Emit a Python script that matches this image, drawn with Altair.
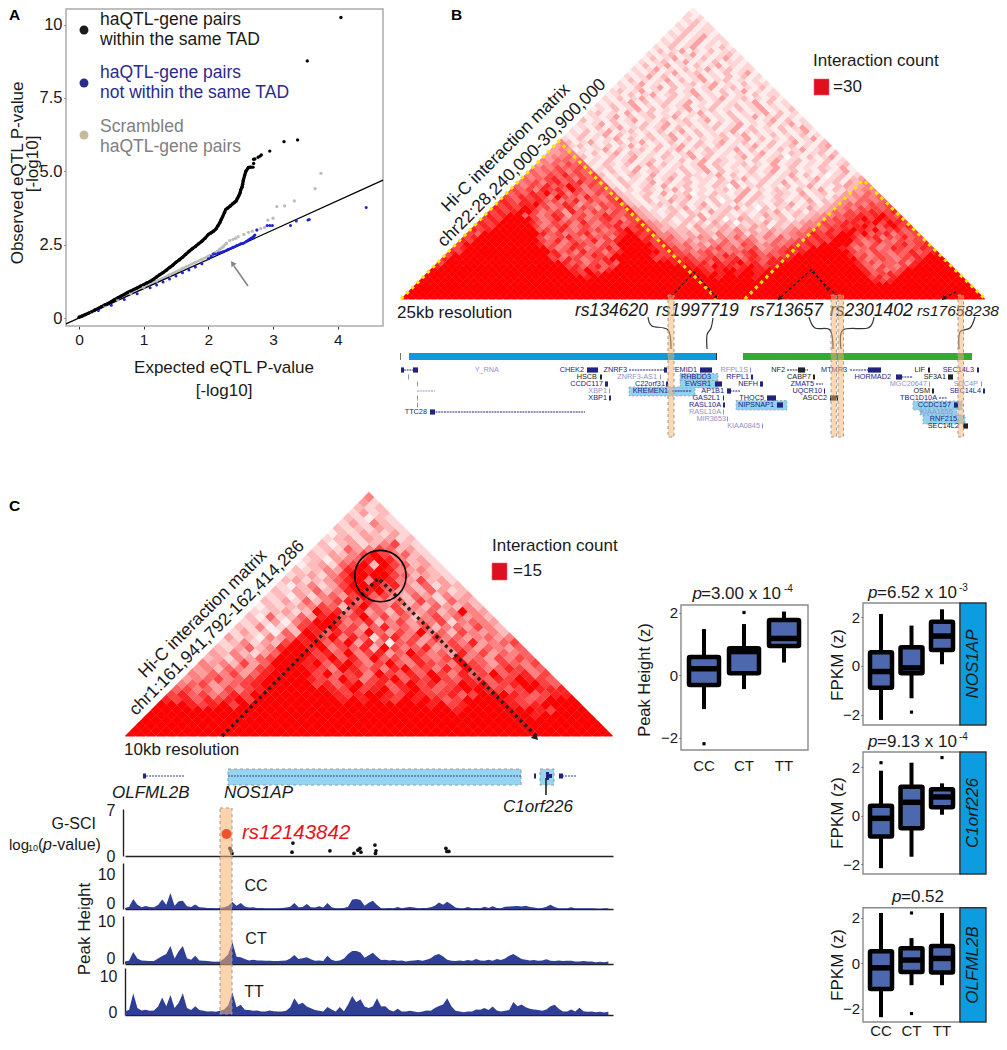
import altair as alt
import pandas as pd

F = "Liberation Sans"
W, H = 991, 1032
PX = alt.Scale(domain=[0, 1007], range=[-8, 999], nice=False, zero=False)
PY = alt.Scale(domain=[0, 1050], range=[-8, 1042], nice=False, zero=False)

# ---------- Panel A ----------
black_x = [0,.05,.1,.15,.2,.25,.3,.35,.4,.45,.5,.55,.6,.65,.7,.75,.8,.85,.9,.95,1,1.05,1.1,1.15,1.2,1.25,1.3,1.35,1.4,1.45,1.5,1.55,1.6,1.65,1.7,1.75,1.8,1.85,1.9,1.95,2,2.04,2.08,2.12,2.15,2.18,2.2,2.22,2.25,2.27,2.3,2.34,2.38,2.41,2.43,2.45,2.47,2.49,2.5,2.52,2.53,2.54,2.56,2.58,2.62,2.66,2.69,2.70,2.70,2.72,2.77,2.80,2.82,2.95,3.17,3.38,3.53,4.05]
black_y = [.03,.07,.12,.17,.22,.28,.33,.39,.45,.5,.56,.63,.69,.75,.81,.87,.92,.98,1.03,1.09,1.14,1.2,1.25,1.32,1.4,1.48,1.55,1.63,1.72,1.8,1.9,1.98,2.07,2.17,2.27,2.36,2.44,2.53,2.62,2.72,2.85,2.9,2.96,3.04,3.15,3.26,3.36,3.45,3.6,3.7,3.75,3.82,3.9,3.95,3.99,4.08,4.16,4.26,4.36,4.46,4.56,4.68,4.85,5.0,5.13,5.14,5.14,5.27,5.41,5.42,5.48,5.52,5.56,5.69,6.01,6.07,8.76,10.24]
blue_x = [.3,.5,.7,.9,1.1,1.2,1.3,1.4,1.5,1.6,1.7,1.8,1.9,2,2.08,2.15,2.23,2.3,2.38,2.44,2.5,2.54,2.58,2.62,2.66,2.7,2.72,2.75,2.91,2.95,2.99,3.27,3.36,3.54,3.56,4.44]
blue_y = [.26,.44,.63,.83,1.03,1.13,1.23,1.33,1.43,1.54,1.64,1.74,1.85,2.02,2.18,2.21,2.26,2.33,2.41,2.47,2.53,2.55,2.6,2.66,2.72,2.78,2.83,3.0,3.15,3.15,3.15,3.15,3.31,3.34,3.36,3.77]
gray_x = [.2,.4,.6,.8,1,1.2,1.4,1.6,1.8,1.9,2,2.07,2.13,2.18,2.23,2.28,2.33,2.38,2.42,2.46,2.55,2.62,2.68,2.75,2.81,2.87,2.92,3,3.06,3.18,3.33,3.65,3.74]
gray_y = [.21,.41,.62,.84,1.05,1.26,1.47,1.69,1.9,2.0,2.11,2.18,2.26,2.35,2.43,2.55,2.64,2.68,2.72,2.77,2.85,2.92,2.96,3.0,3.05,3.09,3.34,3.4,3.8,3.82,3.99,4.41,4.93]

# ---------- Hi-C matrix B: rows from the base up, TAD1|between|TAD2 ----------
B_rows = ["9|9|9","9|9|9","9|9|9","9|9|9","9|9|9",
"9|9|9999999999 99999 8789",
"9999999999 9999999999 9989|998999989|9999999999 9999 78689",
"9999999999 9999999999 87989|9898989989|9999999999 999 867879",
"9999999999 999999999 8797689|98789989889|999999999999 8675679",
"8999999999 99999999 78678679|887988789878|99999999999 86576578 9",
"7999999999 9999999 86757686 9999999 8|8786878978688|9999999999 867566758 9",
"8999999999 99999 76875678 999999 78|87678678687688|8999999999 75676576 8 9998",
"7999999999 9999 785676876 99999 87|775676875786767|8999999986 7576567 87 998",
"87999999999 999 86758675 78 99999 78|7656756567865678|78999999 765765768 678 7",
"78999999999 99 7568756786 9999 878|75645675656745678|8799998756756876787",
"7 99999999 99 8675687657 69 9999 787|656453565476456567|787999967575678678",
"87 99999999 9 76857668578 999 8787|6545345464565346567|87879997568657677",
"78 9999999 9 756786576758 99 7868|56434542546453546456|7878998678576867",
"76 9999999 9 8675678566 78 987 87|554342435345243534566|878799796785767",
"878 99999 9 6758657675 689 7878|5343324324353423434556|76878987967867",
"787 99999 756785675678 678 76|54323142334232431324355|6778789768978",
"878 9999 8657675865768 678 7|543213231423023241323455|767887897987",
"787 9999 75685675678 65 768|4323123142302432132312345|67678979878",
"87899 6756874675 68 767|43213213412321312423132345|5677878976",
"78 78 99 7567486576 57 687|432123132142312213241231334|657678778",
"87879 8675685 76 47 678|4312132413212341203123124234|56576767",
"787889 7568746 576 76|32123213124132123121324123134|5665767",
"8768786756857657 8|321312423121302413212312141324|546656",
"7687875976586576|3213121324123121413213212312134|45656",
"676879685765767|32123141230213212413123214123124|5465",
"76758786975676|312132124131212312412132131241323|455",
"6576867975767|2131231412312132041231213124121343|45",
"567578678676|21321241312312132412131241213123143|5",
"65678675767|213121312413122131241231213124123134",
"5657686767|312132141231321241312213124131202312",
"656675766|213124123121312413121312412312131241",
"56576676|123121413212312413121231241312132141",
"4565766|213213124131212413212312141231213123",
"546656|121312412312131241321213124123121312",
"45565|312131241213212413121241312302131241",
"4455|213124132121312412312131241213212313",
"454|121241312313124121321241312131241231",
"45|231213124121312413213121241312312134",
"5|312412131241213121312412312131241213",
"213121241312312413121231241312131241","12312413121312412131231241213121312",
"2131241231213124131212412312131241","121312412312413121231241312131242",
"21241312131241231213124121312412","3121312412131231241213121241312",
"121241312312412131213124123121","23121412312131241213121241312",
"1213124131212412312131241213","213124121312412131231241212",
"12124131231241213121241312","2131241213121312412312131",
"121312412312412131213122","23124121312412131241212",
"1213124131212412312131","212412131231241213122",
"13121241312412312121","2124131212412131312",
"121312412312131241","21241213124123122","1312412131241212","212312412131221",
"13124121312412","2123124121231","131241213122","21312412131","1231241212",
"213124122","12312412","2131221","123122","21312","1231","212","21","1"]

# ---------- Hi-C matrix C: rows from the base up ----------
C_rows = ["9","9","9","9",
"9999999999 9999999999 9999999999 9999999 89",
"9999999999 9999999999 99999999 98 9999999 8799",
"999878979999 9999999999 9999 8978 9999 87899",
"878687897 99999999 898987989 8679 999 87679",
"786756879 9999999 87899879877 867 999 87678",
"6756475 78 999999 87978968976 78 99 876798",
"5674567 8 99999 7868978689 78 679 8967 8 99 768",
"4567 56 78 9999 876975789 687 976876 87 98 7687",
"54657468 9999 7967859768 69758679 678576",
"45365478 999 87598675896758 69756875676",
"54537469 99 896897579658 7659764765 76",
"3425467 99 98796859675865 79564757 67",
"43532469 99 786957846975648574 6566",
"32463589 98 95768397568457646546",
"23524379 89 679485167465758456 7",
"4231546 89 79586278574856 45 645",
"242316398 687596475 95637545 3",
"32512378 99 67468564735647 53",
"232415799 85683574657 25654",
"316236489 6795746357464 53",
"22342397 858463754635 954",
"1323457637 96574536 4353",
"324263578 68546375 2643",
"23142564796753 642534",
"3243635 8989 645364 23",
"213524 7 99978536243",
"34234689 598 54734 2",
"2342579 999 76343 2",
"323548 98985 4532",
"1342679 397 6342",
"2314568 9853 42",
"324357 97563 2",
"23264576342",
"3134235732",
"234243423",
"13243242",
"3232432",
"242532",
"32132",
"2423",
"323",
"42",
"5"]

# ---------- Track signals (4 kb bins) ----------
cc_track = [.4,.8,3.6,1.5,.6,1.1,.7,.6,1.4,3.4,1.5,5.7,1.2,2.8,2.9,1,.7,1.6,.6,.5,.4,.4,.3,.4,.6,1.2,2.5,1.2,2.1,.9,.5,.6,.4,.4,.3,.3,.3,.3,.4,.5,.8,2.1,.6,.7,1.8,.6,.5,1,.5,2.1,.6,.3,.3,.4,.8,3.4,3.6,3.2,1.2,2.2,2.9,1.4,.3,.3,.4,.3,.7,.3,.5,.7,.5,.3,.4,.4,.6,1.2,2.3,1.5,2.6,1.6,.5,.3,.3,.7,.3,.4,.3,.8,.4,1,.4,.3,.8,.9,1,1.1,.9,1.2,.7,.5,.3,.4,.8,1.5,.7,.3,.3,.3,.6,.3,.3,.3,.3,.3,.2,.1,.3,.3]
ct_track = [.7,1,3.3,1.5,1,.9,.8,.8,1.5,2.2,2.8,5,1.5,3.5,5,1.6,1.2,2.3,1,.9,.8,.7,.6,.7,1.5,2.8,6,2,1.9,1.4,1,1.2,1,1,.9,.9,.8,.8,.9,1,1.5,2.5,1.4,1.6,1.9,1.3,.9,1,.8,2.3,1.2,.8,1,1.5,2.8,3.6,3.6,3.2,1.7,2.4,3.1,2,1.1,1.2,1,1.1,.9,1,.7,.9,1,1.1,.9,1.2,1.6,2.4,2.8,2.1,1.2,.9,.8,1,.8,1.1,.9,1.4,1,.9,1.2,.9,1.4,1.1,1.5,2.3,2.8,2.1,1.4,1.2,1,1.1,.9,1,1.3,.9,.8,1,.8,.9,.9,.7,.7,.8,.7,.7,.5,.6,.5,.7]
tt_track = [1,1.5,6.2,2,1.3,1.5,1.2,1.3,2.4,5,2.5,5.7,2,3.5,6.2,2,1.4,2.5,1.4,1.2,1,1.1,.9,1.2,1.6,2.8,6.5,2.2,2.9,1.5,1.4,1.2,1.3,1,1,1.3,1.1,1,1,1.2,2.2,4.8,3,3.5,2.4,1.9,1.4,1.2,1,2.3,1.6,1,2.3,1.1,3,5.4,3.6,4.5,2.4,2,2.5,4.8,2.4,2.5,1.4,1,1.8,1,1,1.2,1,.8,1,1.3,1.2,2,2.6,3,4.8,2.5,1.2,1,.8,1,1,1.6,1.5,2,1.4,2.4,1.3,1,1.2,1.4,3.7,2.5,3,2.2,1.8,1.6,1.4,1.2,1.6,2.5,2.9,1.8,1,1,1.6,1,2.1,1.1,.9,1,.8,.9,.7,.9]
gsci_kb = [101.6,102.6,103.6,162.6,161.7,198.4,221.7,225.5,227.5,228.4,242,243,242.5,310.7,311.7,313.6]
gsci_val = [1.2,.8,.4,2,.6,.8,.4,.9,1.2,.6,1.7,.8,.4,1.2,.7,.7]

# ---------- Box plots ----------
groups = ["CC","CT","TT"]
peak_box = dict(lo=[-1.09,-.45,.4], q1=[-.32,.06,.93], med=[.2,.75,1.17], q3=[.58,.86,1.76], hi=[1.47,1.63,2.03])
peak_out = [("CC",-2.2),("CT",2.0)]
nos_box = dict(lo=[-2.22,-1.33,.07], q1=[-.9,-.3,.66], med=[-.23,-.08,1.23], q3=[.56,.77,1.82], hi=[2.14,1.66,2.33])
nos_out = [("CT",-1.9)]
c1_box = dict(lo=[-2.16,-1.69,.04], q1=[-.86,-.52,.35], med=[-.11,.55,.77], q3=[.41,1.19,1.09], hi=[1.85,2.18,1.33])
c1_out = [("CC",2.18),("TT",2.39)]
ol_box = dict(lo=[-2.36,-.96,-.96], q1=[-1.13,-.38,-.41], med=[-.2,.14,.21], q3=[.52,.66,.76], hi=[2.2,1.1,2.2])
ol_out = [("CT",2.2),("CT",-2.2)]

# ---------- Gene annotation, panel B ----------
NAVY, PALE, DARK = "#23237f", "#9292c8", "#222222"
L = [370,377,384,391,398,405,412,419,426]
gene_labels = [("Y_RNA",499,0,PALE),("CHEK2",584,0,NAVY),("HSCB",597,1,DARK),("CCDC117",603,2,NAVY),("XBP1",607,3,PALE),("XBP1",607,4,NAVY),
("ZNRF3",627,0,NAVY),("ZNRF3-AS1",657,1,PALE),("C22orf31",665,2,NAVY),("KREMEN1",668,3,NAVY),("EMID1",697,0,NAVY),("RHBDD3",711,1,NAVY),("EWSR1",711,2,NAVY),
("AP1B1",724,3,NAVY),("GAS2L1",720,4,NAVY),("RASL10A",721,5,NAVY),("RASL10A",721,6,PALE),("MIR3653",726,7,PALE),("KIAA0845",760,8,PALE),("RFPL1S",748,0,PALE),
("RFPL1",749,1,NAVY),("NEFH",758,2,NAVY),("THOC5",764,4,NAVY),("NIPSNAP1",774,5,NAVY),("NF2",785,0,DARK),("CABP7",811,1,DARK),("ZMAT5",814,2,NAVY),("UQCR10",822,3,NAVY),
("ASCC2",827,4,DARK),("MTMR3",847,0,NAVY),("HORMAD2",891,1,NAVY),("MGC20647",927,2,PALE),("LIF",925,0,DARK),("SF3A1",946,1,DARK),("OSM",930,3,DARK),("TBC1D10A",937,4,NAVY),
("CCDC157",951,5,NAVY),("KIAA1656",953,6,PALE),("RNF215",957,7,NAVY),("SEC14L2",959,8,DARK),("SEC14L3",974,0,NAVY),("SDC4P",978,2,PALE),("SEC14L4",981,3,NAVY),("TTC28",427,6,NAVY)]
gene_lines = [(401,418,0,NAVY),(417,435,3,PALE),(430,585,6,NAVY),(629,667,0,NAVY),(672,692,3,NAVY),(727,740,3,NAVY),(787,808,0,DARK),(816,823,2,NAVY),(850,881,0,NAVY),(896,913,1,NAVY),(939,947,4,NAVY)]
gene_blocks = [(401,404,0,NAVY),(413,418,0,NAVY),(430,435,6,NAVY),(587,598,0,NAVY),(600,602,1,DARK),(605,608,2,NAVY),(609,610,3,PALE),(609,611,4,NAVY),(664,667,0,NAVY),(660,661,1,PALE),(666,668,2,NAVY),
(700,712,0,NAVY),(715,722,2,NAVY),(727,731,3,NAVY),(723,724,4,NAVY),(723,725,5,NAVY),(723,724,6,PALE),(727,728,7,PALE),(762,763,8,PALE),(750,751,0,PALE),(751,753,1,NAVY),(760,763,2,NAVY),(767,776,4,NAVY),(777,783,5,NAVY),
(798,805,0,DARK),(813,815,1,DARK),(824,825,3,NAVY),(830,838,4,DARK),(868,881,0,NAVY),(896,902,1,NAVY),(929,930,2,PALE),(928,930,0,DARK),(948,953,1,DARK),(932,934,3,DARK),(954,958,5,NAVY),(963,968,8,DARK),(977,979,0,NAVY),(981,982,2,PALE),(983,985,3,NAVY),(408,409,1,PALE),(417,418,2,PALE),(417,418,4,PALE),(417,418,5,PALE)]
gene_boxes = [(629,695,387,396),(680,718,373.5,381),(680,718,380.5,388),(736,787,400.5,410),(913,962,401,410),(923,965,415,424),(920,957,408,415)]

charts = []

def bg(df, x="x", y="y"):
    return dict(x=alt.X(f"{x}:Q", scale=PX, axis=None), y=alt.Y(f"{y}:Q", scale=PY, axis=None))

def text(rows, **mk):
    df = pd.DataFrame(rows, columns=["x","y","t"])
    opts = dict(font=F, baseline="middle", align="left", color="#1a1a1a")
    opts.update(mk)
    charts.append(alt.Chart(df).mark_text(**opts).encode(**bg(df), text="t:N"))

def rect(rows, **mk):
    df = pd.DataFrame(rows, columns=["x","x2","y","y2"])
    charts.append(alt.Chart(df).mark_rect(**mk).encode(**bg(df), x2="x2:Q", y2="y2:Q"))

def poly(paths, **mk):
    rows = [dict(g=g, i=i, x=p[0], y=p[1]) for g, pts in enumerate(paths) for i, p in enumerate(pts)]
    df = pd.DataFrame(rows)
    charts.append(alt.Chart(df).mark_line(**mk).encode(**bg(df), detail="g:N", order="i:Q"))

def tri(x, y, angle, size=45, color="#222222"):
    df = pd.DataFrame({"x":[x],"y":[y]})
    charts.append(alt.Chart(df).mark_point(shape="triangle", angle=angle, size=size, filled=True, color=color, opacity=1, strokeWidth=0).encode(**bg(df)))

def left_axis(xpx, **kw):
    o = dict(orient="left", offset=-(xpx-8), title=None, grid=False, labelFont=F, labelColor="#1a1a1a")
    o.update(kw); return alt.Axis(**o)

def bottom_axis(ypx, **kw):
    o = dict(orient="bottom", offset=-(H-(ypx-8)), title=None, grid=False, labelFont=F, labelColor="#1a1a1a")
    o.update(kw); return alt.Axis(**o)

# ----- Panel A frame, axes, points -----
rect([(66,383,9,326)], fill="white", stroke="#ababab", strokeWidth=1.5)
xA = alt.Scale(domain=[-.2,4.7], range=[58,375], nice=False, zero=False)
yA = alt.Scale(domain=[-.27,10.53], range=[318,1], nice=False, zero=False)
charts.append(alt.Chart(pd.DataFrame({"x":gray_x[:16],"y":gray_y[:16]})).mark_line(color="#bdbdbd", strokeWidth=2.6).encode(
    x=alt.X("x:Q", scale=xA, axis=None), y=alt.Y("y:Q", scale=yA, axis=None)))
charts.append(alt.Chart(pd.DataFrame({"x":[-.2,4.7],"y":[-.2,4.7]})).mark_line(color="black", strokeWidth=1.3).encode(
    x=alt.X("x:Q", scale=xA, axis=bottom_axis(326, values=[0,1,2,3,4], domain=False, tickSize=3, tickColor="#333", labelFontSize=15.5, labelPadding=3)),
    y=alt.Y("y:Q", scale=yA, axis=left_axis(66, values=[0,2.5,5,7.5,10], domain=False, tickSize=2, tickColor="#333", labelFontSize=16.5, labelPadding=2,
        labelExpr="datum.value==0 ? '0' : datum.value==10 ? '10' : format(datum.value,'.1f')"))))
charts.append(alt.Chart(pd.DataFrame({"x":blue_x[13:27],"y":blue_y[13:27]})).mark_line(color="#1c22d6", strokeWidth=2.4).encode(
    x=alt.X("x:Q", scale=xA, axis=None), y=alt.Y("y:Q", scale=yA, axis=None)))
charts.append(alt.Chart(pd.DataFrame({"x":black_x[:66],"y":black_y[:66]})).mark_line(color="#000000", strokeWidth=3.2).encode(
    x=alt.X("x:Q", scale=xA, axis=None), y=alt.Y("y:Q", scale=yA, axis=None)))
for xs, ys, col, sz in [(gray_x,gray_y,"#bdbdbd",11),(blue_x,blue_y,"#1c22d6",9),(black_x,black_y,"#000000",11)]:
    charts.append(alt.Chart(pd.DataFrame({"x":xs,"y":ys})).mark_circle(color=col, size=sz, opacity=1).encode(
        x=alt.X("x:Q", scale=xA, axis=None), y=alt.Y("y:Q", scale=yA, axis=None)))
poly([[(248,286),(234,266)]], color="#858585", strokeWidth=1.6)
tri(233,264,325,size=38,color="#858585")
for yy, col in [(30,"#1c1c1c"),(83,"#2b2b8a"),(135,"#c9b99c")]:
    dfd = pd.DataFrame({"x":[84],"y":[yy]})
    charts.append(alt.Chart(dfd).mark_circle(size=80, color=col, opacity=1).encode(**bg(dfd)))
text([(100,20,"haQTL-gene pairs"),(100,40,"within the same TAD")], fontSize=17.5)
text([(100,73,"haQTL-gene pairs"),(100,93,"not within the same TAD")], fontSize=17.5, color="#2b2b8a")
text([(100,127,"Scrambled"),(100,147,"haQTL-gene pairs")], fontSize=17.5, color="#808080")
text([(224,368,"Expected eQTL P-value"),(224,391,"[-log10]")], fontSize=17, align="center")
text([(18,173,"Observed eQTL P-value")], fontSize=17, angle=270, align="center")
text([(33,164,"[-log10]")], fontSize=17, angle=270, align="center")
text([(9,15,"A"),(451,15,"B"),(9,506,"C")], fontSize=15.5, fontWeight="bold", color="black")

# ----- Hi-C B -----
def fit(s, n):
    s = s.replace(" ", "")
    if n == 0: return ""
    return (s + s[-1]*n)[:n] if s else "1"*n

cells = []
for r, row in enumerate(B_rows):
    parts = row.split("|")
    nL, nR = max(44-r,0), max(33-r,0)
    nM = 80-r-nL-nR
    if r >= 44:
        s = fit(parts[0], nM)
    else:
        parts = parts + [parts[-1]]*(3-len(parts))
        s = fit(parts[0], nL) + fit(parts[1], nM) + fit(parts[2], nR)
    for i, c in enumerate(s):
        cells.append(dict(b=i+r/2+.5, r=r, v=int(c)))
xB = alt.Scale(domain=[0,80], range=[393,977], nice=False, zero=False)
yB = alt.Scale(domain=[0,80], range=[291,-1], nice=False, zero=False)
HEAT = alt.Scale(type="pow", exponent=1.2, domain=[0,9], range=["#ffffff","#ff0000"], interpolate="rgb")
charts.append(alt.Chart(pd.DataFrame(cells)).mark_point(shape="diamond", filled=True, size=60, opacity=1, strokeWidth=0).encode(
    x=alt.X("b:Q", scale=xB, axis=None), y=alt.Y("r:Q", scale=yB, axis=None),
    color=alt.Color("v:Q", scale=HEAT, legend=None)))
rect([(395,992,299.5,314)], fill="white")
wall = pd.DataFrame({"g":[0,0,0,1,1,1],"i":[0,1,2,0,1,2],"b":[0,21.6,43.3,47.1,63.3,80],"r":[0,43.3,0,0,32.6,0]})
charts.append(alt.Chart(wall).mark_line(color="#ffe600", strokeWidth=3.2, strokeDash=[3.2,4.2]).encode(
    x=alt.X("b:Q", scale=xB, axis=None), y=alt.Y("r:Q", scale=yB, axis=None), detail="g:N", order="i:Q"))

# ----- Hi-C C -----
cells = []
for r, row in enumerate(C_rows):
    s = fit(row, 47-r)
    for i, c in enumerate(s):
        cells.append(dict(b=i+r/2+.5, r=r, v=int(c)))
xC = alt.Scale(domain=[0,47], range=[117,605], nice=False, zero=False)
yC = alt.Scale(domain=[0,47], range=[728,484], nice=False, zero=False)
charts.append(alt.Chart(pd.DataFrame(cells)).mark_point(shape="diamond", filled=True, size=114, opacity=1, strokeWidth=0).encode(
    x=alt.X("b:Q", scale=xC, axis=None), y=alt.Y("r:Q", scale=yC, axis=None),
    color=alt.Color("v:Q", scale=HEAT, legend=None)))
rect([(118,620,736.5,746)], fill="white")
dots = pd.DataFrame({"i":[0,1,2],"b":[9.35,24.4,39.6],"r":[0,30.4,0]})
charts.append(alt.Chart(dots).mark_line(color="#222222", strokeWidth=3.4, strokeDash=[3,3.6]).encode(
    x=alt.X("b:Q", scale=xC, axis=None), y=alt.Y("r:Q", scale=yC, axis=None), order="i:Q"))
tri(535,737,135,size=55)
charts.append(alt.Chart(pd.DataFrame({"b":[24.6],"r":[30.8]})).mark_point(size=2640, color="black", strokeWidth=1.6, opacity=1).encode(
    x=alt.X("b:Q", scale=xC, axis=None), y=alt.Y("r:Q", scale=yC, axis=None)))

# ----- B annotation -----
text([(506,148,"Hi-C interaction matrix")], fontSize=17.5, angle=315, align="center")
text([(522,163,"chr22:28,240,000-30,900,000")], fontSize=17.5, angle=315, align="center")
text([(813,61,"Interaction count")], fontSize=17)
rect([(814,829,79,95)], fill="#e0101f", stroke="#f06070", strokeWidth=.6)
text([(833,87,"=30")], fontSize=17)
text([(397,313,"25kb resolution")], fontSize=17)
text([(575,311,"rs134620"),(656,311,"rs1997719"),(750,311,"rs713657"),(830,311,"rs2301402")], fontSize=17.5, fontStyle="italic")
text([(917,311,"rs17658238")], fontSize=15.5, fontStyle="italic")
poly([[(671,297),(694,272),(716,297)]], color="#222222", strokeWidth=1.4, strokeDash=[3,2.5])
poly([[(781,297),(812,269),(830,293)],[(812,272),(836,295)],[(944,298),(956,292)]], color="#222222", strokeWidth=1.4, strokeDash=[3,2.5])
tri(716,297,135,size=22); tri(780,298,225,size=28); tri(944,298,225,size=28)
poly([[(648,317),(652,326),(668,330),(671,349)],[(713,318),(711,328),(707,335),(707,349)],[(809,317),(815,328),(830,330),(833,349)],[(874,317),(868,328),(843,330),(841,349)],[(975,317),(970,328),(960,332),(959,349)]],
     color="#333333", strokeWidth=1.2, interpolate="cardinal")
rect([(409,716,353,360)], fill="#0b9bdc")
rect([(716,717,353,360)], fill="#333333")
rect([(743,972,353,360)], fill="#35a836")
rect([(400,401,353,360)], fill="#777777")
rect(gene_boxes, fill="#8fd3f4", stroke="#9a9a9a", strokeWidth=.7, strokeDash=[2,2])
for col in [NAVY, PALE, DARK]:
    text([(r, L[lv], t) for t, r, lv, c in gene_labels if c == col], fontSize=7.3, align="right", color=col)
    rows = [(a, b, L[lv]) for a, b, lv, c in gene_lines if c == col]
    if rows:
        df = pd.DataFrame(rows, columns=["x","x2","y"])
        charts.append(alt.Chart(df).mark_rule(color=col, strokeWidth=1, strokeDash=[2,.8]).encode(**bg(df), x2="x2:Q"))
    rect([(a, b, L[lv]-2.6, L[lv]+2.6) for a, b, lv, c in gene_blocks if c == col], fill=col)
rect([(668,674,295,437),(831,836.5,295,437),(838,843.5,295,437),(958,963.5,295,437)], fill="#f7b06a", fillOpacity=.5, stroke="#9a9a9a", strokeWidth=1, strokeDash=[3,3])

# ----- C annotation -----
text([(203,614,"Hi-C interaction matrix")], fontSize=17.5, angle=315, align="center")
text([(217,628,"chr1:161,941,792-162,414,286")], fontSize=17.5, angle=315, align="center")
text([(492,546,"Interaction count")], fontSize=17)
rect([(492,507,563,580)], fill="#dd1020", stroke="#f06070", strokeWidth=.6)
text([(513,571,"=15")], fontSize=17)
text([(124,750,"10kb resolution")], fontSize=17)
rect([(228,521,769,785),(540,554,769,785)], fill="#96d5f2", stroke="#9a9a9a", strokeWidth=1, strokeDash=[3,3])
poly([[(143,776),(184,776)],[(228,776),(521,776)],[(559,776),(577,776)]], color="#3b3b9a", strokeWidth=1, strokeDash=[2,1])
rect([(143,146,773.5,778.5),(534,536,773.5,778.5),(559,563,773.5,778.5),(546,549,772,780),(549,552,774,778)], fill="#23237f")
poly([[(546,778),(546,795)]], color="#222222", strokeWidth=1.6)
text([(112,793,"OLFML2B"),(224,793,"NOS1AP"),(503,807,"C1orf226")], fontSize=17, fontStyle="italic")
text([(96,824,"G-SCI")], fontSize=16, align="right")
text([(9,845,"log")], fontSize=15)
text([(28,848,"10")], fontSize=9)
text([(38,845,"(")], fontSize=16)
text([(43,845,"p")], fontSize=16, fontStyle="italic")
text([(52,845,"-value)")], fontSize=16)
text([(242,833,"rs12143842")], fontSize=20.5, fontStyle="italic", color="#e8141c")

xK = alt.Scale(domain=[0,472.5], range=[117,605], nice=False, zero=False)
yG = alt.Scale(domain=[0,7.3], range=[848,801], nice=False, zero=False)
charts.append(alt.Chart(pd.DataFrame({"x":gsci_kb,"y":gsci_val})).mark_circle(size=14, color="#111111", opacity=1).encode(
    x=alt.X("x:Q", scale=xK, axis=bottom_axis(856, labels=False, ticks=False, domainColor="#222", domainWidth=1.6)),
    y=alt.Y("y:Q", scale=yG, axis=left_axis(123, values=[0,7], ticks=False, domainColor="#222", domainWidth=1.4, labelFontSize=16, labelPadding=8))))
for vals, rng, top, base_y, xl, off in [(cc_track,[901,855],16.4,909,123,-6),(ct_track,[956,908],13.3,964,123,-6),(tt_track,[1007,960],13.4,1015,125,-3)]:
    yT = alt.Scale(domain=[0,top], range=rng, nice=False, zero=False)
    df = pd.DataFrame({"x":[i*4 for i in range(len(vals))],"y":vals})
    charts.append(alt.Chart(df).mark_area(color="#2f3f98", opacity=1).encode(
        x=alt.X("x:Q", scale=xK, axis=bottom_axis(base_y, labels=False, ticks=False, domainColor="#222", domainWidth=1.6)),
        y=alt.Y("y:Q", scale=yT, axis=left_axis(xl, values=[0,10], ticks=False, domainColor="#222", domainWidth=1.4, labelFontSize=16, labelPadding=8, labelOffset=off))))
rect([(220,232,808,1014)], fill="#f7b06a", fillOpacity=.55, stroke="#9a9a9a", strokeWidth=1, strokeDash=[3,3])
dfr = pd.DataFrame({"x":[226.5],"y":[834]})
charts.append(alt.Chart(dfr).mark_circle(size=100, color="#f0502a", opacity=1).encode(**bg(dfr)))
text([(256,886,"CC"),(256,939,"CT"),(254,992,"TT")], fontSize=16, align="center")
text([(85,929,"Peak Height")], fontSize=17, angle=270, align="center")

# ----- Box panels -----
def box_panel(box, out, band_rng, y_dom, y_rng, frame, left_x, bottom_y, xlabels, bw, lp=8):
    rect([frame], fill="white", stroke="#8a8a8a", strokeWidth=1.4)
    xS = alt.Scale(domain=groups, range=band_rng, paddingInner=0, paddingOuter=0)
    yS = alt.Scale(domain=y_dom, range=y_rng, nice=False, zero=False)
    df = pd.DataFrame(box); df["g"] = groups
    xax = bottom_axis(bottom_y, domain=False, ticks=False, labelAngle=0, labels=xlabels, labelFontSize=15, labelPadding=lp if xlabels else 0)
    X0 = alt.X("g:N", scale=xS, axis=xax, sort=groups)
    X = alt.X("g:N", scale=xS, axis=None, sort=groups)
    Y0 = alt.Y("lo:Q", scale=yS, axis=left_axis(left_x, values=[-2,0,2], domain=False, tickSize=2, tickColor="#333", labelFontSize=15, labelPadding=1.5))
    charts.append(alt.Chart(df).mark_rule(color="black", strokeWidth=4).encode(x=X0, y=Y0, y2="hi:Q"))
    charts.append(alt.Chart(df).mark_bar(size=bw, fill="#4d68ae", stroke="black", strokeWidth=4.5, cornerRadius=1, opacity=1).encode(
        x=X, y=alt.Y("q1:Q", scale=yS, axis=None), y2="q3:Q"))
    charts.append(alt.Chart(df).mark_tick(size=bw+2, thickness=5.5, color="black", opacity=1).encode(
        x=X, y=alt.Y("med:Q", scale=yS, axis=None)))
    dfo = pd.DataFrame(out, columns=["g","v"])
    charts.append(alt.Chart(dfo).mark_square(size=10, color="black", opacity=1).encode(
        x=X, y=alt.Y("v:Q", scale=yS, axis=None)))

box_panel(peak_box, peak_out, [676,796], [-2.4,2.24], [742,597], (681,808,605,750), 681, 750, True, 30)
box_panel(nos_box, nos_out, [857.75,949.25], [-2.43,2.59], [717,595], (863,960,603,725), 863, 725, False, 22)
box_panel(c1_box, c1_out, [857.75,949.25], [-2.4,2.62], [866,744], (863,960,752,874), 863, 874, False, 22)
box_panel(ol_box, ol_out, [857.75,949.25], [-2.57,2.43], [1014,899.7], (863,960,907.7,1022), 863, 1022, True, 22, lp=1)
rect([(960,986,603,725),(960,986,752,874),(960,986,907.7,1022)], fill="#0b9de0", stroke="#333333", strokeWidth=1.4)
text([(973,664,"NOS1AP"),(973,813,"C1orf226"),(973,965,"OLFML2B")], fontSize=17, fontStyle="italic", angle=270, align="center")
text([(645,680,"Peak Height (z)")], fontSize=16.5, angle=270, align="center")
text([(838,665,"FPKM (z)"),(838,813,"FPKM (z)"),(838,965,"FPKM (z)")], fontSize=17, angle=270, align="center")
text([(692.5,594,"p"),(868,593,"p"),(868,742,"p"),(892,897,"p")], fontSize=17, fontStyle="italic")
text([(701,594,"=3.00 x 10"),(877,593,"=6.52 x 10"),(877,742,"=9.13 x 10"),(901,897,"=0.52")], fontSize=17)
text([(784,589,"-4"),(959,588,"-3"),(959,737,"-4")], fontSize=10)

chart = alt.layer(*charts).resolve_scale(x="independent", y="independent", color="independent").properties(
    width=W, height=H, padding=0, autosize=alt.AutoSizeParams(type="none", contains="padding")
).configure_view(strokeWidth=0).configure_axis(grid=False)

chart.save("out.html", embed_options={"renderer": "svg", "actions": False})
